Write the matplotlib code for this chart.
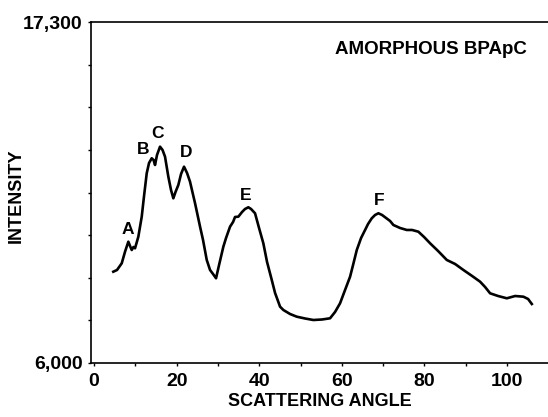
import matplotlib.pyplot as plt
import numpy as np

plt.rcParams['font.family'] = ['Liberation Sans', 'DejaVu Sans']
plt.rcParams['font.weight'] = 'bold'

# scattering curve
angle = [4.67, 5.57, 6.71, 7.51, 8.31, 8.72, 9.13, 9.56, 9.93, 10.73,
         11.55, 12.11, 12.76, 13.32, 13.97, 14.41, 14.77, 15.25, 15.98, 16.59,
         17.19, 17.99, 18.64, 19.20, 19.73, 20.41, 21.07, 21.79, 22.52, 23.24,
         24.46, 25.67, 26.39, 27.29, 28.09, 28.81, 29.54, 30.27, 31.31, 31.96,
         32.93, 33.66, 34.14, 34.94, 35.84, 36.56, 37.36, 38.01, 38.98, 39.95,
         40.99, 41.89, 43.03, 43.83, 45.04, 45.84, 47.46, 49.08, 51.09, 53.10,
         55.21, 57.14, 58.35, 59.56, 60.77, 61.99, 62.71, 63.61, 64.65, 65.62,
         66.34, 67.24, 68.04, 68.84, 69.73, 70.70, 71.67, 72.47, 74.09, 75.71,
         77.00, 78.52, 79.90, 81.36, 83.29, 85.40, 87.41, 89.42, 91.53, 93.46,
         94.67, 95.88, 97.82, 99.93, 101.94, 103.95, 105.08, 105.98]
intensity = [9028, 9085, 9307, 9692, 10024, 9881, 9748, 9848, 9805, 10189,
             10853, 11539, 12292, 12634, 12790, 12734, 12568, 12899, 13175, 13065,
             12843, 12180, 11739, 11463, 11672, 11904, 12269, 12511, 12302, 12014,
             11297, 10521, 10080, 9417, 9085, 8952, 8810, 9251, 9858, 10146,
             10521, 10677, 10843, 10853, 11009, 11108, 11165, 11108, 10966, 10478,
             9970, 9350, 8753, 8322, 7868, 7758, 7625, 7536, 7476, 7426,
             7443, 7483, 7692, 7980, 8421, 8863, 9251, 9748, 10146, 10412,
             10611, 10800, 10909, 10966, 10909, 10810, 10710, 10577, 10478, 10412,
             10412, 10355, 10179, 9970, 9715, 9417, 9284, 9085, 8886, 8697,
             8521, 8312, 8222, 8146, 8222, 8199, 8123, 7957]

peak_names = ['A', 'B', 'C', 'D', 'E', 'F']
peak_x = [8.3, 11.9, 15.4, 22.3, 36.7, 69.1]
peak_y = [10412, 13065, 13619, 12989, 11539, 11383]

fig = plt.figure(figsize=(5.48, 4.17), dpi=100)
ax = fig.add_axes([91 / 548, 54 / 417, 457 / 548, 340.7 / 417])

ax.plot(angle, intensity, '-', color='black', linewidth=1.9)

for name, x, y in zip(peak_names, peak_x, peak_y):
    ax.text(x, y, name, ha='center', va='center', fontsize=12.5, fontweight='bold')

ax.text(0.954, 0.92, 'AMORPHOUS BPApC', transform=ax.transAxes, ha='right', va='center',
        fontsize=13.5, fontweight='bold')

ax.set_xlim(-0.73, 109.9)
ax.set_ylim(6000, 17300)
ax.set_xticks([0, 20, 40, 60, 80, 100])
ax.set_xticks(np.arange(0, 110, 10), minor=True)
ax.set_yticks([6000, 17300])
ax.set_yticklabels(['6,000', '17,300'])
ax.set_yticks(np.linspace(6000, 17300, 9), minor=True)
ax.tick_params(axis='both', which='major', labelsize=14, length=2, width=1)
ax.tick_params(axis='x', which='major', pad=5)
ax.tick_params(axis='y', which='major', pad=4)
ax.tick_params(axis='both', which='minor', length=2, width=1)
ax.spines['right'].set_visible(False)
for s in ['left', 'top', 'bottom']:
    ax.spines[s].set_linewidth(1.2)

ax.set_xlabel('SCATTERING ANGLE', fontsize=13, fontweight='bold')
ax.xaxis.set_label_coords(0.5, -0.088)
ax.set_ylabel('INTENSITY', fontsize=13, fontweight='bold')
ax.yaxis.set_label_coords(-0.144, 0.49)

fig.savefig('out.png', dpi=100)
